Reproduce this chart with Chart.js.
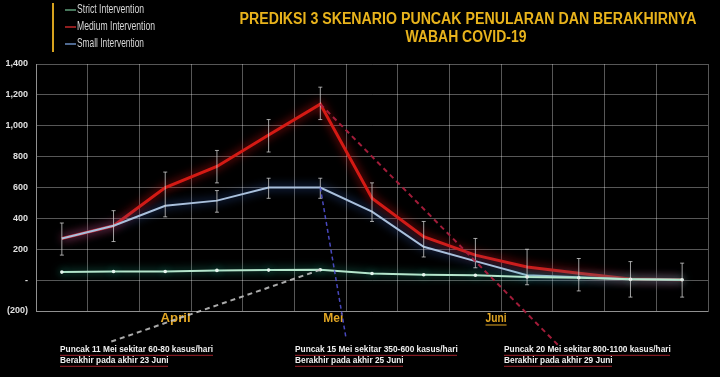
<!DOCTYPE html>
<html><head><meta charset="utf-8">
<script src="https://cdn.jsdelivr.net/npm/chart.js@4/dist/chart.umd.min.js"></script>
<style>html,body{margin:0;padding:0;background:#000;}#wrap{width:720px;height:377px;position:relative;}</style>
</head><body><div id="wrap"><canvas id="c" width="720" height="377"></canvas></div>
<script>
// ---- data ----
const categories = ['1','2','3','4','5','6','7','8','9','10','11','12','13'];
const strictValues = [52, 56, 56, 63, 65, 67, 43, 35, 32, 21, 15, 5, 2];
const mediumValues = [270, 352, 600, 736, 940, 1140, 530, 281, 162, 85, 45, 8, 3];
const smallValues  = [270, 352, 482, 515, 600, 600, 444, 216, 123, 32, 18, 5, 2];
const errLow  = [162, 250, 410, 630, 830, 1040, 380, 150, 80, -30, -70, -110, -110];
const errHigh = [370, 450, 700, 840, 1040, 1250, 630, 380, 270, 200, 140, 120, 110];
const errSmallLow  = [null, null, null, 440, 530, 530, null, null, null, null, null, null, null];
const errSmallHigh = [null, null, null, 580, 660, 660, null, null, null, null, null, null, null];
const yTicks = [-200, 0, 200, 400, 600, 800, 1000, 1200, 1400];
const monthLabels = ['April', 'Mei', 'Juni'];
const monthPos = [2.2, 5.25, 8.4];
const titleLines = ['PREDIKSI 3 SKENARIO PUNCAK PENULARAN DAN BERAKHIRNYA', 'WABAH COVID-19'];
const noteLine1 = ['Puncak 11 Mei sekitar 60-80 kasus/hari', 'Puncak 15 Mei sekitar 350-600 kasus/hari', 'Puncak 20 Mei sekitar 800-1100 kasus/hari'];
const noteLine2 = ['Berakhir pada akhir 23 Juni', 'Berakhir pada akhir 25 Juni', 'Berakhir pada akhir 29 Juni'];

const NARROW = '"Liberation Sans Narrow", "Liberation Sans", Arial, sans-serif';
const WIDE = '"Liberation Sans", Arial, sans-serif';

function drawFit(ctx, text, x, y, font, color, width, align) {
  ctx.save();
  ctx.font = font;
  const w = ctx.measureText(text).width;
  const s = width ? width / w : 1;
  ctx.fillStyle = color;
  ctx.textBaseline = 'middle';
  ctx.textAlign = 'left';
  let x0 = x;
  const ww = w * s;
  if (align === 'center') x0 = x - ww / 2;
  else if (align === 'right') x0 = x - ww;
  ctx.translate(x0, y);
  ctx.scale(s, 1);
  ctx.fillText(text, 0, 0);
  ctx.restore();
  return ww;
}

const glowPlugin = {
  id: 'glow',
  beforeDatasetDraw(chart, args) {
    const ds = chart.data.datasets[args.index];
    const ctx = chart.ctx;
    ctx.save();
    ctx.shadowColor = ds.glowColor;
    ctx.shadowBlur = ds.glowBlur;
  },
  afterDatasetDraw(chart) { chart.ctx.restore(); }
};

const extrasPlugin = {
  id: 'extras',
  afterDatasetsDraw(chart) {
    const ctx = chart.ctx;
    const xs = chart.scales.x, ys = chart.scales.y;
    ctx.save();
    ctx.strokeStyle = 'rgba(215,215,215,0.75)';
    ctx.lineWidth = 1;
    const bar = (i, lo, hi) => {
      if (lo === null || hi === null) return;
      const x = xs.getPixelForValue(i);
      const y1 = ys.getPixelForValue(lo), y2 = ys.getPixelForValue(hi);
      ctx.beginPath();
      ctx.moveTo(x, y1); ctx.lineTo(x, y2);
      ctx.moveTo(x - 2, y1); ctx.lineTo(x + 2, y1);
      ctx.moveTo(x - 2, y2); ctx.lineTo(x + 2, y2);
      ctx.stroke();
    };
    for (let i = 0; i < categories.length; i++) {
      bar(i, errLow[i], errHigh[i]);
      bar(i, errSmallLow[i], errSmallHigh[i]);
    }
    ctx.restore();
  },
  afterDraw(chart) {
    const ctx = chart.ctx;
    const xs = chart.scales.x, ys = chart.scales.y;
    // title
    drawFit(ctx, titleLines[0], 468, 20, 'bold 16px ' + NARROW, '#e8b31c', 457, 'center');
    drawFit(ctx, titleLines[1], 466, 38, 'bold 16px ' + NARROW, '#e8b31c', 121, 'center');
    // legend
    ctx.save();
    ctx.strokeStyle = '#d6a21e';
    ctx.lineWidth = 2;
    ctx.beginPath(); ctx.moveTo(53, 3); ctx.lineTo(53, 52); ctx.stroke();
    ctx.restore();
    const legendY = [10, 27, 44];
    const legendW = [67, 78, 67];
    chart.data.datasets.forEach((ds, k) => {
      ctx.save();
      ctx.strokeStyle = ds.legendColor;
      ctx.lineWidth = 1.5;
      ctx.beginPath(); ctx.moveTo(65, legendY[k]); ctx.lineTo(76, legendY[k]); ctx.stroke();
      ctx.restore();
      drawFit(ctx, ds.label, 77, legendY[k], '12px ' + WIDE, '#d8d8d8', legendW[k], 'left');
    });
    // month labels
    const monthW = [30, 20, 21];
    monthLabels.forEach((m, k) => {
      const x = xs.getPixelForValue(monthPos[k]);
      const w = drawFit(ctx, m, x, 318, 'bold 13px ' + WIDE, '#e2a623', monthW[k], 'center');
      if (m === 'Juni') {
        ctx.save(); ctx.strokeStyle = '#e2a623'; ctx.lineWidth = 1;
        ctx.beginPath(); ctx.moveTo(x - w / 2, 325); ctx.lineTo(x + w / 2, 325); ctx.stroke();
        ctx.restore();
      }
    });
    // connectors from peaks to notes
    const peakIdx = 5;
    const conns = [
      { v: strictValues[peakIdx], ex: 110, ey: 342, color: 'rgba(200,200,200,0.85)', dash: [5, 4], w: 2 },
      { v: smallValues[peakIdx], ex: 346, ey: 338, color: 'rgba(80,80,210,0.9)', dash: [4, 3], w: 1.5 },
      { v: mediumValues[peakIdx], ex: 558, ey: 345, color: 'rgba(170,30,60,0.95)', dash: [5, 4], w: 2 }
    ];
    conns.forEach(c => {
      const sx = xs.getPixelForValue(peakIdx), sy = ys.getPixelForValue(c.v);
      ctx.save();
      ctx.strokeStyle = c.color; ctx.lineWidth = c.w; ctx.setLineDash(c.dash);
      ctx.beginPath(); ctx.moveTo(sx, sy); ctx.lineTo(c.ex, c.ey); ctx.stroke();
      ctx.restore();
    });
    // notes
    const noteX = [60, 295, 504];
    ctx.save();
    ctx.font = 'bold 9px ' + NARROW;
    const sc = 153 / ctx.measureText(noteLine1[0]).width;
    ctx.restore();
    for (let k = 0; k < 3; k++) {
      [noteLine1[k], noteLine2[k]].forEach((t, j) => {
        const y = 350 + j * 11;
        ctx.save(); ctx.font = 'bold 9px ' + NARROW;
        const w = ctx.measureText(t).width * sc;
        ctx.restore();
        drawFit(ctx, t, noteX[k], y, 'bold 9px ' + NARROW, '#f0f0f0', w, 'left');
        ctx.save();
        ctx.strokeStyle = 'rgba(200,40,50,0.8)';
        ctx.lineWidth = 1;
        ctx.beginPath();
        for (let xx = noteX[k]; xx <= noteX[k] + w; xx += 1) {
          const yy = y + 5 + ((Math.floor(xx) % 2) ? 0.6 : 0);
          if (xx === noteX[k]) ctx.moveTo(xx, yy); else ctx.lineTo(xx, yy);
        }
        ctx.stroke();
        ctx.restore();
      });
    }
  }
};

new Chart(document.getElementById('c'), {
  type: 'line',
  data: {
    labels: categories,
    datasets: [
      { label: 'Strict Intervention', data: strictValues, borderColor: '#b5e6cc', borderWidth: 2,
        pointRadius: 1.8, pointBackgroundColor: '#e6f5ee', pointBorderWidth: 0,
        glowColor: 'rgba(40,170,140,0.95)', glowBlur: 9, legendColor: '#5f9e7a', order: 1 },
      { label: 'Medium Intervention', data: mediumValues, borderColor: '#d41a14', borderWidth: 3,
        pointRadius: 0, glowColor: 'rgba(210,20,20,1)', glowBlur: 10, legendColor: '#c0282a', order: 3 },
      { label: 'Small Intervention', data: smallValues, borderColor: '#a9c0dc', borderWidth: 2,
        pointRadius: 0, glowColor: 'rgba(60,110,210,1)', glowBlur: 10, legendColor: '#6a8cc0', order: 2 }
    ]
  },
  options: {
    responsive: false,
    animation: false,
    layout: { padding: { left: 0, top: 64, right: 12, bottom: 66 } },
    plugins: { legend: { display: false }, tooltip: { enabled: false }, title: { display: false } },
    elements: { line: { tension: 0 } },
    scales: {
      x: {
        type: 'category', offset: true,
        grid: { color: 'rgba(255,255,255,0.34)', lineWidth: 1, drawTicks: false, offset: true },
        border: { display: true, color: 'rgba(255,255,255,0.34)' },
        ticks: { display: false },
        afterFit(a) { a.height = 0; }
      },
      y: {
        min: -200, max: 1400,
        afterBuildTicks(a) { a.ticks = yTicks.map(v => ({ value: v })); },
        grid: { color: 'rgba(255,255,255,0.34)', lineWidth: 1, drawTicks: false },
        border: { display: true, color: 'rgba(255,255,255,0.34)' },
        ticks: {
          color: '#e0e0e0', padding: 8,
          font: { family: 'Liberation Sans, Arial, sans-serif', size: 9, weight: 'bold' },
          callback(v) { return v === 0 ? '-' : (v < 0 ? '(' + Math.abs(v) + ')' : v.toLocaleString('en-US')); }
        },
        afterFit(a) { a.width = 36; }
      }
    }
  },
  plugins: [glowPlugin, extrasPlugin]
});
</script></body></html>
